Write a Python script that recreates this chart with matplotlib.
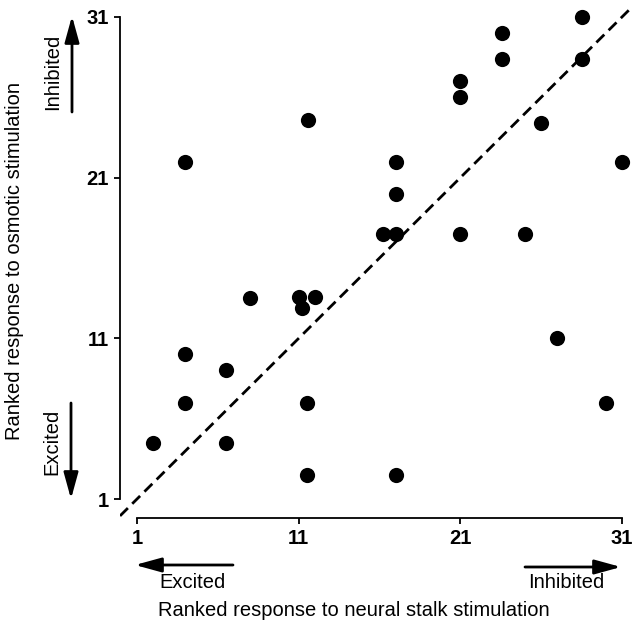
import matplotlib
matplotlib.use("Agg")
import matplotlib.pyplot as plt
from matplotlib.patches import FancyArrowPatch

plt.rcParams['font.family'] = ['Liberation Sans', 'DejaVu Sans']

# Ranked responses
neural_stalk_rank = [2, 4, 4, 6.5, 6.5, 11.5, 11.5, 8, 11, 12, 11.2, 4, 11.6,
                     28.5, 23.6, 23.6, 28.5, 21, 21, 26, 17, 17, 31,
                     16.2, 17, 21, 25, 27, 30, 17]
osmotic_rank = [4.5, 10, 7, 9, 4.5, 7, 2.5, 13.5, 13.6, 13.6, 12.9, 22, 24.6,
                31, 30, 28.4, 28.4, 27, 26, 24.4, 22, 20, 22,
                17.5, 17.5, 17.5, 17.5, 11, 7, 2.5]
tick_values = [1, 11, 21, 31]
tick_labels = ['1', '11', '21', '31']

W, H = 632, 622
fig = plt.figure(figsize=(W / 100, H / 100), dpi=100)
ax = fig.add_axes([120 / W, (H - 518) / H, 512 / W, 510 / H])

ax.scatter(neural_stalk_rank, osmotic_rank, s=120, color='black', zorder=3,
           clip_on=False, linewidths=0)
ax.axline((0, 0), slope=1, color='black', linestyle=(0, (4, 2.2)), linewidth=2)

ax.set_xlim(-0.05, 31.62)
ax.set_ylim(-0.18, 31.56)
for s in ['top', 'right']:
    ax.spines[s].set_visible(False)
ax.spines['left'].set_bounds(1, 31)
ax.spines['bottom'].set_bounds(1, 31)
ax.spines['left'].set_linewidth(1.3)
ax.spines['bottom'].set_linewidth(1.3)
ax.set_xticks(tick_values)
ax.set_xticklabels(tick_labels)
ax.set_yticks(tick_values)
ax.set_yticklabels(tick_labels)
ax.tick_params(axis='both', direction='out', length=4, width=1.3,
               labelsize=14.5, pad=4)
for lab in ax.get_xticklabels() + ax.get_yticklabels():
    lab.set_fontweight('bold')

def fx(px):
    return px / W

def fy(py):
    return 1 - py / H

fs = 14.5
fig.text(fx(354), fy(611), 'Ranked response to neural stalk stimulation',
         ha='center', va='center', fontsize=fs)
fig.text(fx(15), fy(261), 'Ranked response to osmotic stimulation',
         ha='center', va='center', rotation=90, fontsize=fs)
fig.text(fx(159), fy(583), 'Excited', ha='left', va='center', fontsize=fs)
fig.text(fx(604), fy(583), 'Inhibited', ha='right', va='center', fontsize=fs)
fig.text(fx(53), fy(72), 'Inhibited', ha='center', va='center',
         rotation=90, fontsize=fs)
fig.text(fx(52), fy(442), 'Excited', ha='center', va='center',
         rotation=90, fontsize=fs)

style = '-|>,head_length=0.8,head_width=0.22'
arrows = [((233, 565), (135, 565)),
          ((525, 567), (621, 567)),
          ((72, 112), (72, 16)),
          ((71, 403), (71, 499))]
for (x0, y0), (x1, y1) in arrows:
    fig.add_artist(FancyArrowPatch(
        (fx(x0), fy(y0)), (fx(x1), fy(y1)), transform=fig.transFigure,
        arrowstyle=style, color='black', lw=2, mutation_scale=20,
        shrinkA=0, shrinkB=0))

fig.savefig('out.png', dpi=100)
